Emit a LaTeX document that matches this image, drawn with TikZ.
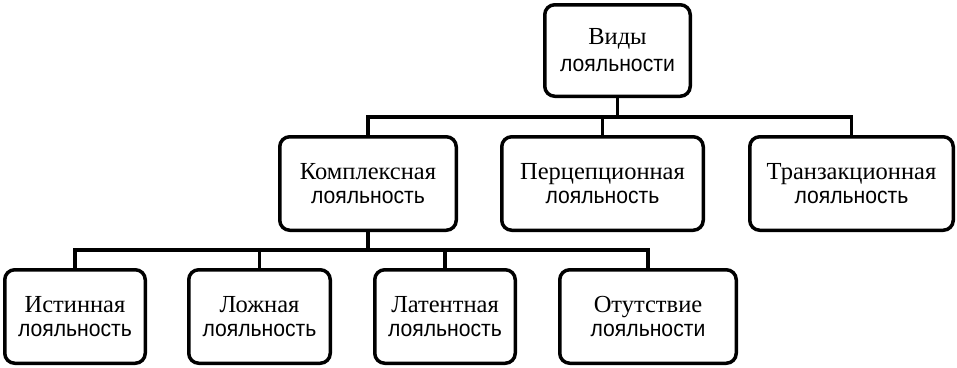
\documentclass[tikz,border=0pt]{standalone}
\usepackage{fontspec}
\setmainfont{Liberation Serif}
\newfontfamily\sansf[FakeStretch=0.92]{Liberation Sans}
\begin{document}
\begin{tikzpicture}[x=1pt,y=-1pt,
  box/.style={draw=black, line width=3.5pt, rounded corners=10pt, align=center, inner sep=0pt,
    font=\fontsize{24.5}{24}\selectfont, minimum height=93.5pt},
  link/.style={line width=3.5pt}]
\newcommand{\lo}[1]{{\sansf\fontsize{23}{24}\selectfont #1}}
\useasboundingbox (0,0) rectangle (957,367);
\node[box, minimum width=145.5pt, minimum height=91.5pt, font=\fontsize{24.5}{27}\selectfont] (top) at (617.5,50.5) {Виды\\\lo{лояльности}};
\node[box, minimum width=176.5pt] (komp) at (368,183.5) {Комплексная\\\lo{лояльность}};
\node[box, minimum width=201.5pt] (perc) at (602.5,183.5) {Перцепционная\\\lo{лояльность}};
\node[box, minimum width=203.5pt] (tran) at (851.5,183.5) {Транзакционная\\\lo{лояльность}};
\node[box, minimum width=140.5pt] (ist) at (75,316.5) {Истинная\\\lo{лояльность}};
\node[box, minimum width=141.5pt] (lozh) at (259.5,316.5) {Ложная\\\lo{лояльность}};
\node[box, minimum width=140.5pt] (lat) at (445,316.5) {Латентная\\\lo{лояльность}};
\node[box, minimum width=176.5pt] (otu) at (648,316.5) {Отутствие\\\lo{лояльности}};
\coordinate (hub1) at (617.5,117);
\coordinate (hub2) at (368,250);
\draw[link] (top.south) -- (hub1);
\draw[link] (komp.north) |- (hub1) -| (tran.north);
\draw[link] (perc.north) -- (perc.north |- hub1);
\draw[link] (komp.south) -- (hub2);
\draw[link] (ist.north) |- (hub2) -| (otu.north);
\draw[link] (lozh.north) -- (lozh.north |- hub2);
\draw[link] (lat.north) -- (lat.north |- hub2);
\end{tikzpicture}
\end{document}
